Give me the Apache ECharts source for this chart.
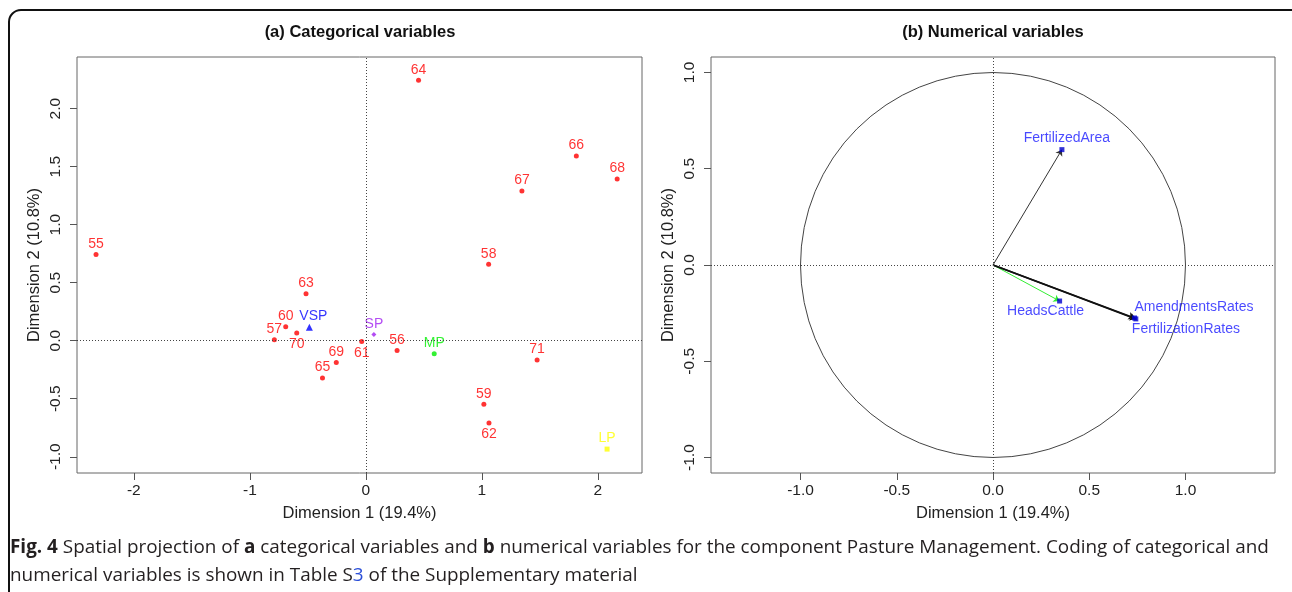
<!DOCTYPE html>
<html>
<head>
<meta charset="utf-8">
<title>Spatial projection - Pasture Management</title>
<script src="https://cdn.jsdelivr.net/npm/echarts@6/dist/echarts.min.js"></script>
<style>
  html, body { margin: 0; padding: 0; background: #fff; }
  #main { width: 1292px; height: 592px; }
</style>
</head>
<body>
<div id="main"></div>
<script type="text/javascript">
// (a) categorical variables: individuals (numbers) and modalities
var catNames = ['55', '56', '57', '58', '59', '60', '61', '62', '63', '64', '65', '66', '67', '68', '69', '70', '71'];
var catX = [-2.326, 0.269, -0.789, 1.058, 1.017, -0.691, -0.036, 1.061, -0.516, 0.454, -0.374, 1.814, 1.345, 2.166, -0.255, -0.596, 1.476];
var catY = [0.744, -0.084, 0.009, 0.658, -0.547, 0.121, -0.006, -0.710, 0.405, 2.244, -0.322, 1.591, 1.290, 1.393, -0.187, 0.066, -0.167];
var modNames = ['VSP', 'SP', 'MP', 'LP'];
var modX = [-0.487, 0.069, 0.589, 2.079];
var modY = [0.115, 0.054, -0.112, -0.934];

// (b) numerical variables: correlation arrows
var varNames = ['FertilizedArea', 'HeadsCattle', 'AmendmentsRates', 'FertilizationRates'];
var varX = [0.358, 0.346, 0.735, 0.742];
var varY = [0.599, -0.187, -0.275, -0.280];
var circleRadius = 1;

// tick labels
var ticksAX = [-2, -1, 0, 1, 2];
var ticksAY = [-1, -0.5, 0, 0.5, 1, 1.5, 2];
var ticksB = [-1, -0.5, 0, 0.5, 1];

// styling only
var labelsBelow = ['70', '61', '62'];
var modColors = ['#0000ff', '#a020f0', '#00ee00', '#ffff00'];
var modSymbols = ['triangle', 'diamond', 'circle', 'rect'];
var arrowColors = ['#333333', '#33ee33', '#111111', '#111111'];

var FONT = 'Liberation Sans, Arial, sans-serif';
var CAP_FONT = 'Open Sans';
var CAP_SIZE = 18.9;

var myChart = echarts.init(document.getElementById('main'));

var catData = catNames.map(function (n, i) {
    var below = labelsBelow.indexOf(n) >= 0;
    return {
        name: n,
        value: [catX[i], catY[i]],
        label: { position: below ? 'bottom' : 'top', distance: below ? 2 : 1 }
    };
});
var modData = modNames.map(function (n, i) {
    return {
        name: n,
        value: [modX[i], modY[i]],
        symbol: modSymbols[i],
        symbolSize: modSymbols[i] === 'triangle' ? 7 : 5,
        itemStyle: { color: modColors[i] },
        label: { color: modColors[i], offset: n === 'VSP' ? [4, 0] : [0, 0] }
    };
});
var arrowData = varNames.map(function (n, i) {
    return {
        name: n,
        coords: [[0, 0], [varX[i], varY[i]]],
        lineStyle: { color: arrowColors[i], width: i >= 2 ? 1.5 : 1, opacity: 1 }
    };
});
var labelLayouts = {
    FertilizedArea: { position: 'top', distance: 2, offset: [5, 0] },
    HeadsCattle: { position: 'bottom', distance: 1, offset: [-14, 0] },
    AmendmentsRates: { position: 'top', distance: 1, align: 'left', offset: [0, 0] },
    FertilizationRates: { position: 'bottom', distance: 1, align: 'left', offset: [-4, 0] }
};
var varData = varNames.map(function (n, i) {
    return { name: n, value: [varX[i], varY[i]], label: labelLayouts[n] };
});

function axisX(gridIndex, min, max, ticks, fmt) {
    return {
        gridIndex: gridIndex, type: 'value', min: min, max: max,
        name: 'Dimension 1 (19.4%)', nameLocation: 'middle', nameGap: 32,
        nameTextStyle: { fontFamily: FONT, fontSize: 16.5, color: '#222' },
        axisLine: { show: false, onZero: false },
        axisTick: { show: true, length: 7, customValues: ticks, lineStyle: { color: '#555' } },
        axisLabel: { customValues: ticks, margin: 10, fontFamily: FONT, fontSize: 15.5, color: '#222', formatter: fmt },
        splitLine: { show: false }
    };
}
function axisY(gridIndex, min, max, ticks, fmt) {
    return {
        gridIndex: gridIndex, type: 'value', min: min, max: max,
        name: 'Dimension 2 (10.8%)', nameLocation: 'middle', nameGap: 34, nameRotate: 90,
        nameTextStyle: { fontFamily: FONT, fontSize: 16.5, color: '#222' },
        axisLine: { show: false, onZero: false },
        axisTick: { show: true, length: 7, customValues: ticks, lineStyle: { color: '#555' } },
        axisLabel: { customValues: ticks, margin: 13, rotate: 90, fontFamily: FONT, fontSize: 15.5, color: '#222', formatter: fmt },
        splitLine: { show: false }
    };
}
var oneDec = function (v) { return v.toFixed(1); };
var intFmt = function (v) { return String(Math.round(v)); };

var zeroLines = {
    silent: true, symbol: 'none', animation: false,
    label: { show: false },
    lineStyle: { type: [1, 2], color: '#444', width: 1 },
    data: [{ xAxis: 0 }, { yAxis: 0 }]
};

myChart.setOption({
    animation: false,
    backgroundColor: '#fff',
    title: [
        { text: '(a) Categorical variables', left: 360, top: 24, textAlign: 'center', padding: 0,
          textStyle: { fontFamily: FONT, fontSize: 16.5, fontWeight: 'bold', color: '#111' } },
        { text: '(b) Numerical variables', left: 993, top: 24, textAlign: 'center', padding: 0,
          textStyle: { fontFamily: FONT, fontSize: 16.5, fontWeight: 'bold', color: '#111' } },
        { text: '{b|Fig. 4} Spatial projection of {b|a} categorical variables and {b|b} numerical variables for the component Pasture Management. Coding of categorical and',
          left: 10, top: 538, padding: 0,
          textStyle: {
              fontFamily: CAP_FONT, fontSize: CAP_SIZE, fontWeight: 'normal', color: '#231f20',
              rich: { b: { fontFamily: CAP_FONT, fontSize: CAP_SIZE, fontWeight: 'bold', color: '#231f20' } }
          } },
        { text: 'numerical variables is shown in Table S{l|3} of the Supplementary material',
          left: 10, top: 566, padding: 0,
          textStyle: {
              fontFamily: CAP_FONT, fontSize: CAP_SIZE, fontWeight: 'normal', color: '#231f20',
              rich: { l: { fontFamily: CAP_FONT, fontSize: CAP_SIZE, fontWeight: 'normal', color: '#2b4fd8' } }
          } }
    ],
    graphic: [{
        type: 'rect', silent: true, z: 100,
        shape: { x: 9, y: 10, width: 1300, height: 620, r: 12 },
        style: { fill: 'none', stroke: '#111', lineWidth: 2 }
    }],
    grid: [
        { left: 77, top: 57, width: 565, height: 416, show: true, borderColor: '#666', borderWidth: 1, backgroundColor: 'transparent' },
        { left: 711, top: 57, width: 564, height: 416, show: true, borderColor: '#666', borderWidth: 1, backgroundColor: 'transparent' }
    ],
    xAxis: [
        axisX(0, -2.49, 2.38, ticksAX, intFmt),
        axisX(1, -1.465, 1.465, ticksB, oneDec)
    ],
    yAxis: [
        axisY(0, -1.14, 2.445, ticksAY, oneDec),
        axisY(1, -1.08, 1.08, ticksB, oneDec)
    ],
    series: [
        {
            name: 'individuals', type: 'scatter', xAxisIndex: 0, yAxisIndex: 0,
            symbol: 'circle', symbolSize: 5, silent: true,
            itemStyle: { color: '#ff0000' },
            label: { show: true, formatter: '{b}', fontFamily: FONT, fontSize: 14, color: '#ff0000' },
            data: catData,
            markLine: zeroLines
        },
        {
            name: 'modalities', type: 'scatter', xAxisIndex: 0, yAxisIndex: 0, silent: true,
            label: { show: true, position: 'top', distance: 1, formatter: '{b}', fontFamily: FONT, fontSize: 14 },
            data: modData
        },
        {
            name: 'circle', type: 'custom', xAxisIndex: 1, yAxisIndex: 1, silent: true,
            data: [[0, 0, circleRadius]],
            renderItem: function (params, api) {
                var c = api.coord([api.value(0), api.value(1)]);
                var e = api.coord([api.value(0) + api.value(2), api.value(1)]);
                return {
                    type: 'circle',
                    shape: { cx: c[0], cy: c[1], r: e[0] - c[0] },
                    style: { fill: 'none', stroke: '#444', lineWidth: 1 }
                };
            },
            markLine: zeroLines
        },
        {
            name: 'arrows', type: 'lines', coordinateSystem: 'cartesian2d', xAxisIndex: 1, yAxisIndex: 1,
            silent: true, symbol: ['none', 'arrow'], symbolSize: [0, 6],
            lineStyle: { opacity: 1 },
            data: arrowData
        },
        {
            name: 'variables', type: 'scatter', xAxisIndex: 1, yAxisIndex: 1, silent: true,
            symbol: 'rect', symbolSize: 5, z: 5,
            itemStyle: { color: '#0000cc' },
            label: { show: true, formatter: '{b}', fontFamily: FONT, fontSize: 14, color: '#1a1aff' },
            data: varData
        }
    ]
});
</script>
</body>
</html>
